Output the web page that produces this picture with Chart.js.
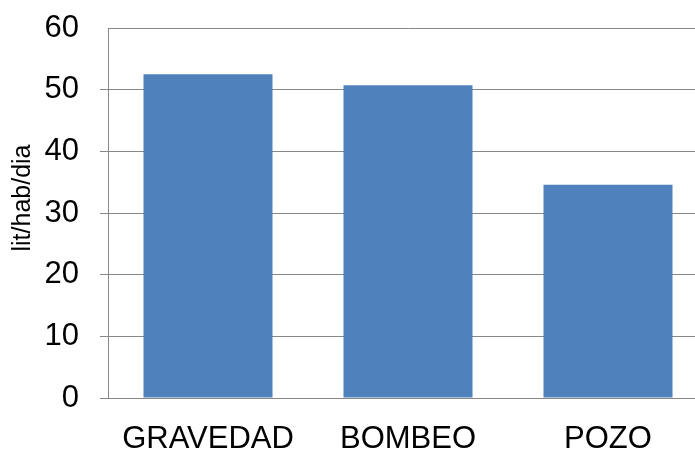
<!DOCTYPE html>
<html>
<head>
<meta charset="utf-8">
<script src="https://cdn.jsdelivr.net/npm/chart.js@4/dist/chart.umd.min.js"></script>
<style>
html, body { margin: 0; padding: 0; overflow: hidden; background: #fff; }
#wrap { position: relative; width: 708px; height: 450px; }
</style>
</head>
<body>
<div id="wrap"><canvas id="c"></canvas></div>
<script>
const categories = ['GRAVEDAD', 'BOMBEO', 'POZO'];
const values = [52.5, 50.7, 34.6];
const yTicks = [0, 10, 20, 30, 40, 50, 60];
const yTitle = 'lit/hab/dia';

const FONT = '"Liberation Sans", Arial, sans-serif';
const GRID = '#878787';

const titlePlugin = {
  id: 'yTitle',
  afterDraw(chart) {
    const ctx = chart.ctx;
    ctx.save();
    ctx.translate(23, 198);
    ctx.rotate(-Math.PI / 2);
    ctx.font = '25px ' + FONT;
    ctx.fillStyle = '#000';
    ctx.textAlign = 'center';
    ctx.textBaseline = 'middle';
    ctx.fillText(yTitle, 0, 0);
    ctx.restore();
  }
};

new Chart(document.getElementById('c'), {
  type: 'bar',
  data: {
    labels: categories,
    datasets: [{
      data: values,
      backgroundColor: '#4F81BD',
      borderWidth: 0,
      barPercentage: 0.645,
      categoryPercentage: 1
    }]
  },
  options: {
    responsive: true,
    maintainAspectRatio: false,
    animation: false,
    layout: { padding: { left: 0, right: 0, top: 28, bottom: 0 } },
    plugins: { legend: { display: false }, tooltip: { enabled: false } },
    scales: {
      x: {
        grid: { display: false },
        border: { display: true, color: GRID, width: 1 },
        ticks: { color: '#000', font: { family: FONT, size: 31 }, padding: 15, maxRotation: 0 },
        afterFit(s) { s.height = 52; s.paddingLeft = 0; s.paddingRight = 0; }
      },
      y: {
        min: 0, max: 60,
        afterBuildTicks(s) { s.ticks = yTicks.map(v => ({ value: v })); },
        grid: {
          color: GRID, lineWidth: 1, drawTicks: true, tickLength: 8,
          tickColor: (c) => (c.tick && c.tick.value === 60) ? 'rgba(0,0,0,0)' : GRID
        },
        border: { display: true, color: GRID, width: 1 },
        ticks: { color: '#000', font: { family: FONT, size: 31 }, padding: 21 },
        afterFit(s) { s.width = 108; s.paddingTop = 0; s.paddingBottom = 0; }
      }
    }
  },
  plugins: [titlePlugin]
});
</script>
</body>
</html>
